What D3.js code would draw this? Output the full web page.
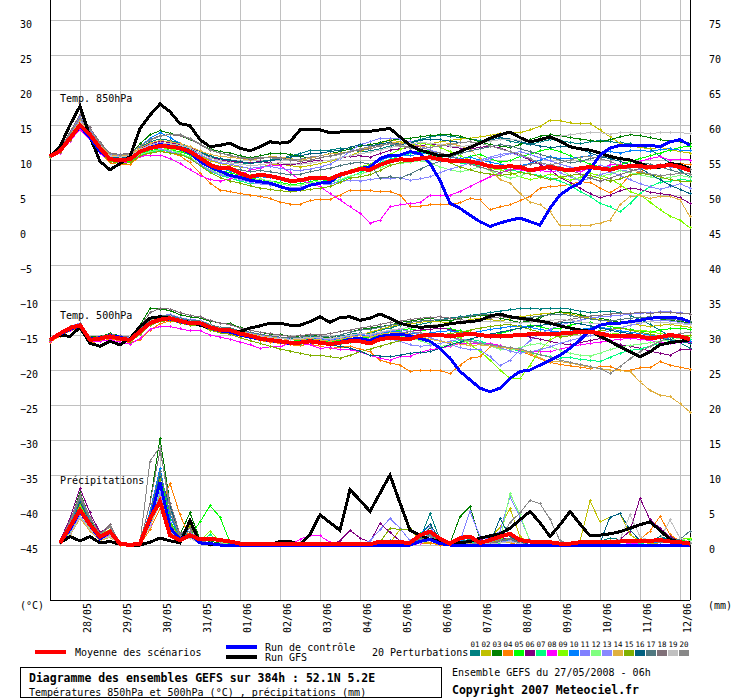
<!DOCTYPE html>
<html>
<head>
<meta charset="utf-8">
<script src="https://cdn.jsdelivr.net/npm/d3@7"></script>
<style>
  body { margin: 0; background: #fff; }
  svg { display: block; font-family: "DejaVu Sans Mono", monospace; }
</style>
</head>
<body>
<svg id="chart" width="740" height="700"></svg>
<script>
// lead times (hours after 27/05/2008 06h)
var leadHours = [0,6,12,18,24,30,36,42,48,54,60,66,72,78,84,90,96,102,108,114,120,126,132,138,144,150,156,162,168,174,180,186,192,198,204,210,216,222,228,234,240,246,252,258,264,270,276,282,288,294,300,306,312,318,324,330,336,342,348,354,360,366,372,378,384];
var precipHours = [6,12,18,24,30,36,42,48,54,60,66,72,78,84,90,96,102,108,114,120,126,132,138,144,150,156,162,168,174,180,186,192,198,204,210,216,222,228,234,240,246,252,258,264,270,276,282,288,294,300,306,312,318,324,330,336,342,348,354,360,366,372,378,384];
var dateHours = [18,42,66,90,114,138,162,186,210,234,258,282,306,330,354,378];
var dateLabels = ["28/05","29/05","30/05","31/05","01/06","02/06","03/06","04/06","05/06","06/06","07/06","08/06","09/06","10/06","11/06","12/06"];
var leftTicks = [30,25,20,15,10,5,0,-5,-10,-15,-20,-25,-30,-35,-40,-45];
var rightTicks = [75,70,65,60,55,50,45,40,35,30,25,20,15,10,5,0];

var memberLabels = ["01","02","03","04","05","06","07","08","09","10","11","12","13","14","15","16","17","18","19","20"];
var memberColors = ["#008080","#c0c000","#008000","#ff8000","#00ff00","#800080","#00ff80","#ff00ff","#80ff00","#0080ff","#8080ff","#80ff80","#8888ff","#e0b040","#80b000","#006080","#507880","#807078","#c0c0c0","#888888"];

// 850 hPa temperature (°C)
var t850Mean = [10.5,11.3,13.1,15.0,13.6,11.7,10.1,10.0,10.1,11.2,11.7,12.0,11.9,11.7,11.2,10.3,9.3,8.8,8.8,8.1,7.6,7.9,7.7,7.4,7.0,7.1,7.4,7.5,7.3,7.9,8.3,8.7,8.6,9.3,9.8,10.1,10.0,10.2,10.4,10.1,9.9,9.8,9.8,9.5,9.1,9.0,9.1,9.0,8.5,8.8,9.0,8.7,8.5,8.8,9.0,8.8,8.6,9.0,9.1,9.1,9.0,9.1,9.3,9.0,8.5];
var t850Gfs = [10.5,11.9,15.0,17.7,13.3,9.8,8.6,9.5,10.5,14.5,16.4,18.0,16.9,15.2,14.9,12.9,11.9,12.1,12.4,11.7,11.3,11.9,12.6,12.4,12.6,14.3,14.4,14.3,13.9,14.0,14.1,14.1,14.1,14.3,14.5,13.3,12.1,11.4,11.0,10.6,10.7,11.2,11.8,12.4,13.1,13.6,14.0,13.2,12.6,12.9,13.3,12.7,11.9,11.6,11.4,11.0,10.5,10.2,10.0,9.5,9.0,9.0,9.5,9.3,8.8];
var t850Control = [10.5,11.4,13.0,14.8,13.2,11.2,10.2,10.0,10.2,11.2,11.8,12.2,12.0,11.6,11.0,9.8,9.0,8.4,7.8,7.5,7.1,6.9,6.7,6.2,5.8,5.8,6.4,6.7,6.8,7.9,8.3,8.8,9.0,10.2,10.7,10.7,11.2,10.9,9.5,7.1,3.8,3.1,2.1,1.2,0.5,1.0,1.4,1.7,1.2,0.7,3.1,5.0,6.0,6.7,8.6,10.7,11.7,12.1,12.1,12.1,12.1,11.9,12.6,12.9,12.1];
var t850Members = [
  [10.5,11.4,13.4,15.2,13.8,12.0,10.5,10.3,10.6,11.8,12.6,13.0,12.8,12.4,11.9,11.2,10.6,10.2,9.8,9.6,9.5,9.8,10.0,10.2,10.6,10.9,11.4,11.3,11.4,11.7,11.5,11.2,11.3,11.6,12.0,12.4,12.6,12.9,13.3,13.5,13.4,13.2,13.0,12.8,12.9,13.1,12.7,12.4,12.2,12.6,12.9,12.8,12.5,12.3,12.6,12.8,12.6,12.5,12.3,12.0,11.6,10.5,9.6,8.5,7.6],
  [10.6,11.3,13.0,14.8,13.5,11.8,10.4,10.2,10.3,11.0,11.6,12.1,12.0,11.8,11.3,10.6,9.9,9.5,9.2,9.0,8.8,9.0,9.3,9.4,9.2,9.0,9.2,9.5,9.8,10.2,10.6,11.2,11.8,12.4,12.9,12.6,12.2,12.0,12.3,12.6,12.8,13.0,13.1,13.3,13.5,13.8,13.9,13.9,14.3,14.8,15.7,15.6,15.3,15.2,15.2,14.3,13.3,12.4,12.0,11.8,11.6,11.8,11.5,11.2,11.0],
  [10.5,11.5,13.6,15.5,14.0,12.2,10.8,10.6,10.9,12.3,13.6,14.2,13.8,13.5,12.9,12.3,11.6,11.2,11.0,10.6,10.3,10.6,10.9,11.0,10.8,10.5,10.3,10.6,10.9,11.2,11.6,12.0,12.2,12.5,12.8,13.0,13.1,13.3,13.5,13.6,13.6,13.4,13.0,12.6,12.2,12.0,11.8,12.2,12.9,13.4,13.6,13.5,13.2,13.0,12.8,12.6,12.9,13.3,13.6,13.5,13.2,12.9,12.7,12.6,12.4],
  [10.4,11.0,12.8,14.5,13.0,11.0,9.6,9.3,9.4,10.5,11.0,11.3,11.0,10.6,9.6,8.1,6.7,5.7,5.5,5.2,5.0,4.8,4.5,4.0,3.7,3.7,4.2,4.4,4.4,5.0,5.7,5.7,5.6,5.5,5.5,5.0,3.4,3.4,3.6,3.7,3.6,3.9,4.5,4.3,2.9,3.3,3.6,4.2,4.8,6.0,6.2,6.3,6.5,6.9,6.8,6.0,5.3,6.2,7.9,8.3,8.8,9.0,9.2,9.5,9.3],
  [10.5,11.2,13.0,14.9,13.4,11.5,10.0,9.7,9.8,10.9,11.3,11.6,11.4,11.2,10.7,9.8,9.0,8.5,8.2,7.8,7.4,7.2,7.0,6.8,6.5,6.6,6.9,7.2,7.0,7.6,8.2,8.9,9.2,10.0,10.5,10.8,11.0,11.2,11.4,11.0,10.6,10.2,10.5,10.8,10.2,9.7,9.9,10.5,10.8,11.3,11.6,11.2,10.6,10.0,9.4,9.0,8.9,9.3,9.8,10.2,10.6,11.0,11.4,11.8,12.0],
  [10.6,11.4,13.3,15.3,13.9,12.1,10.6,10.4,10.6,11.6,12.3,12.7,12.5,12.2,11.8,11.0,10.4,10.0,9.8,9.7,9.6,9.8,9.6,9.4,9.3,9.5,9.8,10.0,10.0,10.3,10.5,10.6,10.4,10.9,11.4,11.6,11.8,12.0,12.3,12.2,11.9,11.7,11.6,11.8,12.0,11.7,11.2,10.6,10.0,9.4,8.6,7.5,6.8,6.0,5.2,4.6,5.0,5.6,6.0,5.8,5.4,5.2,5.0,4.6,3.8],
  [10.4,11.1,12.9,14.7,13.2,11.3,9.9,9.6,9.7,10.6,11.1,11.4,11.2,10.9,10.3,9.3,8.4,7.8,7.4,7.0,6.6,6.8,6.7,6.3,6.0,6.1,6.4,6.6,6.5,7.0,7.6,8.2,8.8,9.6,10.1,10.6,10.9,11.1,10.8,10.4,10.0,9.6,9.4,9.2,9.0,8.8,8.6,8.3,8.0,7.8,7.4,7.0,6.4,5.5,4.8,3.8,3.3,2.6,3.8,5.2,6.2,6.8,7.0,7.2,7.1],
  [10.3,11.0,12.7,14.4,12.9,11.0,9.8,9.6,9.7,10.5,10.7,10.7,10.2,9.5,8.6,7.8,7.2,7.0,7.3,7.8,8.6,8.8,9.3,9.2,8.2,7.1,6.7,6.2,5.2,4.3,3.3,2.4,1.0,1.4,3.3,3.6,3.8,3.9,5.0,5.0,5.0,5.5,6.2,6.9,7.6,8.1,8.7,8.6,8.3,8.5,8.3,8.5,8.6,8.3,8.8,8.8,9.3,9.3,9.1,9.8,10.2,10.5,10.0,10.1,10.0],
  [10.5,11.3,13.1,15.0,13.5,11.6,10.1,9.9,10.0,11.0,11.5,11.8,11.6,11.4,10.8,10.0,9.2,8.7,8.5,8.1,7.8,7.9,7.6,7.3,6.9,7.0,7.4,7.6,7.5,8.1,8.5,9.0,9.4,10.1,10.8,11.5,12.0,12.4,12.2,11.8,11.2,10.6,10.0,9.5,8.8,8.6,8.2,7.6,7.2,7.5,8.0,7.6,7.1,7.5,8.1,7.8,7.3,6.5,5.5,5.0,4.0,2.9,2.0,1.4,0.3],
  [10.4,11.3,13.2,15.1,13.7,11.9,10.3,10.1,10.4,11.9,13.1,13.9,13.2,12.4,11.6,10.5,9.5,8.8,8.4,8.0,7.4,7.6,7.5,7.2,6.9,6.9,7.2,7.3,7.1,7.7,8.3,8.9,9.1,10.0,10.4,10.8,10.6,10.9,11.1,10.8,10.5,10.2,10.4,10.0,9.7,9.4,9.1,9.2,9.5,10.0,10.5,10.2,10.2,10.4,10.6,11.0,11.2,11.0,11.3,11.4,11.2,11.5,11.6,11.4,11.4],
  [10.6,11.6,13.8,16.2,14.4,12.3,10.8,10.6,10.7,11.5,12.2,12.5,12.3,12.0,11.5,10.8,10.1,9.6,9.4,9.1,8.8,9.0,9.1,8.8,8.6,8.5,8.7,9.0,9.4,10.2,11.2,12.2,12.6,13.1,13.1,13.0,12.6,12.0,11.4,11.0,10.6,10.1,9.7,9.8,10.2,10.5,10.9,11.2,10.8,10.3,9.9,9.4,9.0,8.7,8.8,9.2,9.0,8.5,8.4,8.7,9.0,9.2,9.0,8.8,8.6],
  [10.5,11.2,13.0,14.7,13.3,11.4,9.9,9.8,9.9,10.8,11.2,11.5,11.4,11.0,10.4,9.4,8.6,8.1,7.7,7.4,7.1,7.3,7.0,6.6,6.3,6.4,6.7,7.0,6.8,7.2,7.7,8.0,8.4,8.9,9.3,9.5,9.7,9.9,9.6,9.0,8.6,8.3,8.6,9.0,8.5,7.9,7.4,7.7,8.3,8.8,9.2,8.6,7.8,7.2,7.3,7.6,8.0,8.5,8.2,7.9,7.6,7.3,7.5,7.8,7.5],
  [10.5,11.4,13.5,15.8,14.1,12.0,10.5,10.2,10.4,11.2,11.6,11.6,11.2,10.8,10.2,9.4,8.5,7.9,7.6,7.2,6.8,6.6,6.4,6.2,6.0,6.1,6.4,6.6,6.5,6.9,7.1,7.0,7.2,7.4,7.3,7.5,7.1,7.3,7.6,8.2,8.7,9.1,9.6,10.0,10.4,10.8,11.0,10.6,10.2,9.6,9.0,8.2,7.6,7.0,7.4,7.9,8.3,7.8,7.2,6.6,6.2,5.8,6.2,6.6,6.0],
  [10.6,11.5,13.4,15.6,14.0,12.2,10.7,10.5,10.8,11.7,12.4,12.8,12.6,12.3,11.9,11.3,10.8,10.5,10.4,10.2,10.0,10.2,10.5,10.4,10.2,10.0,10.2,10.6,10.9,11.0,11.2,11.5,11.8,12.2,12.6,12.4,12.2,12.0,11.8,12.1,12.4,12.0,11.5,10.2,8.6,7.2,6.7,5.2,4.0,3.6,2.6,0.6,0.6,0.6,0.7,1.0,1.4,3.6,4.8,4.9,4.5,4.8,4.8,4.3,1.9],
  [10.4,11.1,12.8,14.6,13.1,11.2,9.8,9.5,9.6,10.6,11.0,11.2,11.0,10.8,10.2,9.2,8.2,7.5,7.0,6.7,6.3,6.0,5.8,5.6,5.5,5.6,5.8,6.0,6.2,6.8,7.4,7.6,7.9,8.5,9.2,9.6,9.9,10.3,10.6,10.2,9.6,9.0,8.6,8.2,8.0,7.8,8.0,8.2,8.0,7.6,7.2,7.5,7.8,8.0,7.8,7.4,7.0,7.3,7.8,8.1,7.9,7.6,7.2,7.0,6.9],
  [10.5,11.3,13.2,15.0,13.6,11.8,10.4,10.3,10.5,11.4,12.0,12.3,12.2,12.0,11.6,11.0,10.5,10.2,10.0,9.8,9.5,9.7,9.9,10.1,10.4,10.6,10.9,11.0,11.2,11.4,11.8,12.2,12.0,12.3,12.5,12.2,12.4,12.8,13.0,12.9,12.7,12.5,12.6,12.4,12.8,13.2,13.0,12.6,12.3,12.0,11.8,11.9,12.0,11.6,11.0,10.5,10.2,9.8,9.3,8.8,8.0,7.2,6.4,5.8,5.2],
  [10.5,11.3,13.3,15.2,13.7,11.8,10.3,10.1,10.3,11.2,11.8,12.0,11.8,11.5,11.0,10.2,9.5,9.1,8.9,8.6,8.3,8.5,8.3,8.1,7.9,8.0,8.3,8.6,8.8,9.2,9.5,9.7,9.4,7.4,7.6,7.4,8.0,8.7,9.3,9.8,10.4,10.9,11.3,11.6,11.9,12.2,12.0,11.6,11.2,10.8,10.4,10.0,9.6,9.8,10.2,10.4,10.6,10.3,9.9,9.6,9.4,9.0,8.6,8.2,8.0],
  [10.6,11.6,14.0,16.5,14.6,12.5,11.0,10.8,11.0,12.0,12.9,13.5,13.6,13.5,13.0,12.2,11.4,11.0,10.7,10.3,10.1,10.2,10.4,10.3,10.0,9.8,10.0,10.3,10.6,10.9,11.2,11.4,11.6,12.0,12.4,12.2,11.8,11.5,11.2,11.0,10.6,10.0,9.4,9.0,8.6,8.2,8.5,9.0,9.4,9.6,9.3,9.0,8.6,8.0,7.4,7.0,7.4,7.9,8.4,8.8,9.1,9.4,9.3,9.0,8.6],
  [10.5,11.4,13.4,15.4,13.9,12.0,10.6,10.4,10.6,11.5,12.1,12.4,12.3,12.1,11.7,11.0,10.3,9.9,9.6,9.4,9.2,9.3,9.5,9.6,9.5,9.4,9.5,9.8,10.0,10.3,10.6,10.9,11.1,11.4,11.8,12.0,12.3,12.5,12.4,12.2,12.0,11.9,12.1,12.4,12.7,12.9,13.0,12.8,12.6,12.8,13.1,13.4,13.6,13.8,13.9,13.9,13.7,13.9,14.0,13.9,13.8,13.9,14.0,13.9,13.8],
  [10.5,11.5,13.7,16.0,14.2,12.3,10.9,10.7,10.9,12.0,12.8,13.4,13.7,13.6,13.1,12.3,11.5,11.0,10.6,10.4,10.2,10.4,10.3,10.2,10.0,10.1,10.4,10.6,10.5,10.8,11.2,11.6,11.9,12.1,12.3,12.0,11.7,11.6,11.8,12.0,12.2,12.5,12.6,12.4,12.0,11.6,11.2,10.8,10.2,9.6,9.3,9.6,10.0,10.4,10.5,10.2,9.8,9.2,8.7,8.3,8.0,7.8,7.9,8.1,8.0]
];

// 500 hPa temperature (°C)
var t500Mean = [-15.7,-14.8,-14.0,-13.6,-15.7,-15.5,-15.2,-15.5,-15.7,-14.5,-13.3,-12.8,-12.6,-13.0,-13.3,-13.3,-13.9,-14.3,-14.3,-14.8,-15.1,-15.5,-15.7,-15.9,-16.1,-16.1,-15.9,-16.1,-16.3,-16.1,-15.9,-15.9,-16.2,-15.6,-15.4,-15.5,-15.6,-15.1,-15.0,-15.0,-15.2,-15.0,-14.8,-15.0,-15.2,-15.2,-15.1,-15.0,-14.9,-14.9,-14.9,-14.8,-14.7,-14.5,-14.5,-14.8,-15.1,-15.2,-15.1,-15.2,-15.5,-15.3,-15.0,-15.2,-15.6];
var t500Gfs = [-15.7,-15.0,-15.2,-13.9,-16.2,-16.6,-15.9,-16.4,-15.5,-13.8,-12.6,-12.4,-12.6,-12.9,-13.2,-13.6,-14.0,-14.3,-14.5,-14.5,-14.0,-13.7,-13.3,-13.3,-13.6,-13.6,-13.1,-12.4,-13.2,-12.5,-12.4,-12.9,-12.6,-12.0,-12.6,-13.3,-13.7,-13.9,-13.8,-13.7,-13.4,-13.2,-13.1,-12.9,-12.3,-12.0,-12.4,-12.6,-12.8,-13.0,-13.3,-13.7,-14.0,-14.3,-14.4,-15.2,-15.9,-16.7,-17.4,-18.1,-17.4,-16.4,-16.1,-15.9,-15.7];
var t500Control = [-15.7,-14.9,-14.2,-13.7,-15.6,-15.4,-15.1,-15.3,-15.8,-14.6,-13.2,-12.8,-12.7,-13.1,-13.4,-13.4,-14.0,-14.4,-14.6,-15.0,-15.3,-15.6,-15.8,-16.0,-16.2,-16.0,-15.8,-16.0,-16.4,-16.0,-15.6,-15.5,-15.8,-15.2,-15.0,-14.9,-15.1,-15.5,-15.9,-16.9,-18.3,-20.2,-21.4,-22.6,-23.1,-22.6,-21.2,-20.2,-20.0,-19.3,-18.6,-17.9,-16.9,-15.7,-14.3,-13.6,-13.3,-13.3,-13.1,-12.9,-12.6,-12.5,-12.5,-12.6,-13.1];
var t500Members = [
  [-15.6,-14.7,-13.9,-13.5,-15.5,-15.4,-15.0,-15.3,-15.5,-14.3,-13.0,-12.5,-12.3,-12.7,-13.0,-13.1,-13.6,-14.0,-14.1,-14.5,-14.8,-15.0,-15.2,-15.4,-15.5,-15.4,-15.2,-15.3,-15.5,-15.2,-14.9,-14.7,-14.8,-14.3,-14.0,-13.6,-13.3,-13.5,-13.2,-12.8,-12.6,-12.4,-12.2,-12.0,-11.8,-11.6,-11.4,-11.2,-11.2,-11.3,-11.2,-11.2,-11.3,-11.6,-11.8,-11.7,-11.6,-11.8,-12.2,-12.8,-13.5,-14.3,-15.2,-16.1,-16.9],
  [-15.7,-14.9,-14.1,-13.7,-15.8,-15.6,-15.3,-15.6,-15.8,-14.6,-13.4,-12.9,-12.7,-13.1,-13.4,-13.4,-14.0,-14.4,-14.4,-14.9,-15.2,-15.4,-15.4,-15.5,-15.7,-15.6,-15.3,-15.4,-15.6,-15.4,-15.2,-15.0,-14.6,-14.2,-13.8,-13.5,-13.4,-13.2,-13.0,-13.1,-13.3,-13.1,-12.8,-12.6,-12.8,-13.0,-12.7,-12.4,-12.2,-12.0,-11.9,-11.8,-12.0,-12.3,-12.6,-12.8,-13.1,-13.3,-13.4,-13.6,-13.8,-13.6,-13.5,-13.7,-13.9],
  [-15.5,-14.6,-13.8,-13.4,-15.3,-15.2,-14.8,-15.1,-15.3,-13.6,-11.2,-11.3,-11.5,-12.1,-12.4,-12.6,-13.0,-13.3,-13.4,-13.9,-14.3,-14.6,-14.9,-14.9,-15.2,-15.3,-15.0,-15.2,-15.4,-15.0,-14.6,-14.2,-14.0,-13.8,-13.6,-13.2,-13.0,-12.8,-12.6,-12.9,-13.0,-12.6,-12.4,-12.2,-12.3,-12.6,-12.9,-13.2,-13.0,-12.5,-12.0,-11.7,-11.8,-12.1,-12.4,-12.6,-12.9,-13.2,-13.0,-12.8,-12.6,-12.7,-12.9,-13.1,-13.2],
  [-16.0,-15.2,-14.4,-14.0,-16.1,-15.9,-15.6,-15.8,-16.1,-15.7,-14.3,-13.4,-13.0,-13.2,-13.6,-13.7,-14.3,-14.7,-14.8,-15.2,-15.4,-15.8,-16.0,-16.2,-16.4,-16.5,-16.3,-16.6,-16.9,-16.8,-16.6,-17.0,-17.4,-18.6,-19.0,-19.3,-20.2,-20.0,-20.0,-20.1,-20.5,-19.3,-18.3,-18.1,-16.7,-16.6,-16.9,-17.3,-17.8,-18.4,-18.9,-19.2,-19.4,-19.6,-19.8,-19.5,-19.5,-20.0,-20.0,-19.7,-19.7,-18.8,-19.3,-19.6,-19.9],
  [-15.6,-14.7,-13.9,-13.5,-15.6,-15.4,-15.1,-15.4,-15.6,-14.2,-12.6,-12.2,-12.2,-12.6,-13.0,-13.1,-13.7,-14.1,-14.2,-14.6,-14.9,-15.3,-15.5,-15.7,-15.9,-15.8,-15.6,-15.8,-16.0,-15.7,-15.5,-15.3,-15.4,-15.0,-14.6,-14.3,-14.1,-14.4,-14.2,-14.0,-14.1,-14.4,-14.6,-14.8,-15.0,-14.8,-14.4,-14.0,-13.6,-13.8,-14.2,-14.0,-13.6,-13.3,-13.2,-13.5,-13.8,-14.0,-14.2,-14.4,-14.6,-14.3,-14.1,-14.0,-14.2],
  [-15.7,-14.8,-14.0,-13.6,-15.7,-15.5,-15.2,-15.5,-15.7,-14.4,-13.1,-12.6,-12.4,-12.8,-13.1,-13.2,-13.8,-14.2,-14.3,-14.7,-15.0,-15.3,-15.5,-15.7,-15.9,-15.9,-15.7,-15.9,-16.2,-16.0,-15.7,-15.6,-15.8,-15.3,-15.0,-14.8,-14.5,-14.3,-14.2,-14.0,-14.2,-14.6,-14.9,-15.1,-15.3,-15.4,-15.2,-15.0,-15.3,-15.6,-15.9,-16.2,-16.4,-16.1,-15.8,-15.5,-15.8,-16.4,-16.6,-16.9,-17.3,-17.6,-17.9,-17.1,-17.0],
  [-15.8,-14.9,-14.1,-13.7,-15.8,-15.6,-15.3,-15.6,-15.8,-14.5,-13.2,-12.7,-12.5,-12.9,-13.2,-13.3,-13.9,-14.3,-14.4,-14.8,-15.2,-15.5,-15.8,-16.0,-16.2,-16.3,-16.0,-16.2,-16.5,-16.3,-16.0,-15.9,-16.1,-15.7,-15.4,-15.2,-15.0,-15.3,-15.6,-15.9,-16.1,-15.8,-15.6,-15.9,-16.3,-16.6,-17.0,-17.3,-17.6,-17.8,-18.1,-18.3,-18.2,-18.5,-18.6,-18.8,-18.2,-17.6,-17.2,-17.0,-16.6,-16.2,-15.9,-15.8,-15.7],
  [-15.9,-15.0,-14.3,-13.9,-16.0,-15.9,-15.7,-16.0,-16.3,-15.5,-14.2,-13.8,-13.8,-14.1,-14.4,-14.4,-15.0,-15.3,-15.6,-16.0,-16.4,-16.9,-16.7,-16.7,-16.2,-16.2,-16.4,-16.9,-16.8,-17.1,-17.1,-17.4,-17.9,-18.3,-18.6,-18.1,-18.0,-17.5,-17.1,-16.9,-16.6,-16.2,-16.2,-16.3,-16.2,-16.5,-16.9,-17.2,-17.4,-17.3,-17.4,-17.0,-16.7,-16.4,-16.2,-16.0,-15.8,-15.6,-15.5,-15.6,-15.8,-16.0,-16.2,-16.1,-16.0],
  [-15.7,-14.8,-14.0,-13.6,-15.6,-15.5,-15.2,-15.5,-15.7,-14.4,-13.2,-12.7,-12.5,-12.9,-13.2,-13.2,-13.8,-14.2,-14.3,-14.7,-15.0,-15.4,-15.6,-15.8,-16.0,-16.0,-15.8,-16.0,-16.3,-16.1,-15.8,-15.7,-16.0,-15.4,-15.2,-15.1,-15.0,-15.2,-15.0,-14.8,-15.0,-15.4,-16.4,-17.3,-18.6,-20.0,-21.2,-21.2,-19.3,-17.1,-15.7,-15.0,-14.6,-14.3,-14.4,-14.6,-14.9,-14.7,-14.4,-14.3,-14.5,-14.8,-15.0,-15.2,-15.3],
  [-15.6,-14.7,-13.9,-13.5,-15.5,-15.3,-15.0,-15.3,-15.5,-14.2,-12.8,-12.4,-12.3,-12.7,-13.0,-13.0,-13.6,-14.0,-14.1,-14.5,-14.8,-15.1,-15.3,-15.5,-15.7,-15.7,-15.4,-15.6,-15.8,-15.5,-15.2,-15.0,-15.2,-14.8,-14.5,-14.5,-14.8,-14.9,-14.7,-14.5,-14.4,-14.6,-14.7,-14.5,-14.2,-14.0,-13.8,-13.7,-13.9,-14.2,-14.4,-14.6,-14.5,-14.2,-14.0,-13.9,-14.1,-14.4,-14.6,-14.8,-15.0,-15.3,-15.6,-15.8,-15.9],
  [-15.6,-14.6,-13.8,-13.3,-15.4,-15.3,-15.0,-15.2,-15.4,-14.1,-12.7,-12.2,-12.1,-12.5,-12.8,-12.9,-13.5,-13.9,-14.0,-14.4,-14.7,-15.0,-15.2,-15.4,-15.6,-15.6,-15.3,-15.5,-15.7,-15.4,-15.1,-14.9,-15.1,-14.7,-14.4,-14.2,-14.5,-14.9,-15.4,-15.8,-16.3,-16.8,-17.1,-17.1,-18.1,-19.4,-18.6,-17.1,-15.8,-14.8,-14.2,-13.6,-13.2,-12.9,-12.6,-12.4,-12.3,-12.2,-12.0,-11.9,-11.8,-11.7,-11.7,-11.8,-12.0],
  [-15.8,-14.9,-14.1,-13.7,-15.8,-15.6,-15.3,-15.6,-15.9,-14.7,-13.4,-12.9,-12.7,-13.1,-13.4,-13.5,-14.1,-14.5,-14.6,-15.0,-15.3,-15.6,-15.8,-16.0,-16.2,-16.2,-16.0,-16.2,-16.5,-16.2,-15.9,-15.8,-16.0,-15.6,-15.3,-15.1,-15.3,-15.8,-16.3,-16.6,-16.5,-16.1,-15.9,-16.2,-16.6,-17.0,-17.2,-16.8,-16.4,-16.2,-16.6,-17.2,-17.6,-17.9,-18.0,-17.6,-17.1,-16.7,-16.5,-16.3,-16.1,-15.9,-15.7,-15.5,-15.4],
  [-15.7,-14.7,-13.9,-13.4,-15.6,-15.4,-15.1,-15.4,-15.6,-14.3,-13.0,-12.5,-12.4,-12.8,-13.1,-13.2,-13.8,-14.2,-14.3,-14.7,-15.0,-15.3,-15.5,-15.7,-15.9,-16.0,-15.8,-16.0,-16.2,-16.0,-15.7,-15.6,-15.8,-15.4,-15.6,-15.9,-16.4,-16.6,-16.5,-16.2,-15.9,-15.6,-15.8,-16.1,-16.4,-16.8,-17.3,-17.6,-17.4,-17.1,-16.7,-16.2,-15.8,-15.4,-15.1,-14.8,-14.4,-14.0,-13.6,-13.3,-13.0,-12.9,-13.0,-13.2,-13.4],
  [-15.6,-14.7,-13.9,-13.5,-15.5,-15.4,-15.0,-15.3,-15.6,-14.3,-12.9,-12.4,-12.2,-12.6,-12.9,-13.0,-13.6,-14.0,-14.1,-14.5,-14.8,-15.1,-15.3,-15.5,-15.7,-15.7,-15.5,-15.7,-15.9,-15.6,-15.3,-15.1,-15.3,-14.9,-14.7,-14.6,-14.9,-15.2,-15.6,-15.9,-16.1,-16.3,-16.5,-16.4,-16.6,-16.8,-16.9,-17.1,-17.6,-18.3,-18.8,-18.8,-19.0,-19.3,-19.6,-19.8,-20.0,-20.1,-20.2,-21.7,-22.9,-23.6,-23.8,-24.8,-26.0],
  [-15.8,-14.9,-14.1,-13.7,-15.9,-15.7,-15.4,-15.7,-16.0,-14.9,-13.6,-13.1,-12.9,-13.3,-13.6,-13.7,-14.3,-14.7,-14.9,-15.4,-15.8,-16.2,-16.6,-17.0,-17.3,-17.6,-17.9,-17.9,-18.1,-18.3,-17.9,-17.4,-17.0,-16.6,-16.2,-15.8,-15.5,-15.3,-15.1,-15.0,-14.8,-14.6,-14.3,-14.0,-13.8,-13.6,-13.5,-13.8,-14.2,-14.6,-15.0,-15.3,-15.1,-14.8,-14.6,-14.4,-14.2,-14.0,-14.3,-14.6,-14.9,-15.1,-15.3,-15.2,-15.0],
  [-15.7,-14.8,-14.0,-13.6,-15.7,-15.5,-15.2,-15.5,-15.7,-14.5,-13.2,-12.7,-12.5,-12.9,-13.2,-13.3,-13.9,-14.3,-14.4,-14.8,-15.1,-15.4,-15.6,-15.8,-16.0,-16.1,-16.0,-16.2,-16.5,-16.6,-16.9,-17.3,-17.9,-18.0,-18.1,-17.9,-17.6,-17.5,-17.4,-16.9,-16.4,-16.0,-15.6,-15.2,-14.9,-14.6,-14.3,-14.0,-13.8,-13.6,-13.5,-13.3,-13.2,-13.4,-13.7,-14.0,-14.3,-14.6,-14.8,-15.0,-15.3,-15.5,-15.7,-15.9,-16.2],
  [-15.6,-14.7,-13.9,-13.5,-15.6,-15.4,-15.1,-15.3,-15.5,-14.2,-12.8,-12.3,-12.2,-12.6,-12.9,-13.0,-13.5,-13.9,-14.0,-14.4,-14.6,-14.9,-15.1,-15.3,-15.4,-15.3,-15.1,-15.2,-15.3,-15.0,-14.6,-14.3,-14.2,-13.9,-13.6,-13.4,-13.2,-13.0,-12.9,-12.8,-12.7,-12.5,-12.3,-12.1,-12.0,-12.2,-12.4,-12.6,-12.5,-12.3,-12.1,-12.0,-12.2,-12.5,-12.7,-12.9,-13.0,-12.8,-12.6,-12.5,-12.4,-12.6,-12.8,-12.9,-13.0],
  [-15.5,-14.6,-13.8,-13.4,-15.4,-15.2,-14.9,-15.1,-15.3,-13.8,-11.8,-11.2,-11.3,-11.8,-12.2,-12.4,-12.9,-13.3,-13.5,-14.0,-14.3,-14.6,-14.8,-15.0,-15.2,-15.1,-14.9,-15.0,-14.8,-14.5,-14.3,-14.0,-13.8,-13.5,-13.2,-13.0,-12.8,-12.6,-12.5,-12.4,-12.6,-12.8,-13.0,-12.8,-12.6,-12.4,-12.5,-12.8,-13.0,-13.2,-13.4,-13.1,-12.8,-12.5,-12.3,-12.2,-12.0,-11.9,-11.9,-11.8,-11.9,-11.8,-11.8,-11.9,-12.0],
  [-15.6,-14.7,-13.9,-13.5,-15.6,-15.4,-15.1,-15.4,-15.6,-14.4,-13.0,-12.5,-12.4,-12.8,-13.1,-13.1,-13.7,-14.1,-14.2,-14.6,-14.9,-15.2,-15.4,-15.5,-15.6,-15.5,-15.3,-15.4,-15.5,-15.3,-15.0,-14.8,-14.9,-14.6,-14.3,-14.1,-13.9,-13.8,-13.6,-13.5,-13.4,-13.3,-13.2,-13.1,-13.0,-13.1,-13.2,-13.3,-13.2,-13.0,-12.9,-12.8,-12.9,-13.1,-13.3,-13.4,-13.5,-13.4,-13.3,-13.2,-13.1,-13.2,-13.3,-13.4,-13.5],
  [-15.7,-14.8,-14.0,-13.6,-15.7,-15.5,-15.2,-15.5,-15.7,-14.5,-13.3,-12.8,-12.6,-13.0,-13.3,-13.3,-13.9,-14.3,-14.4,-14.8,-15.1,-15.4,-15.6,-15.8,-16.0,-16.0,-15.8,-16.0,-16.2,-15.9,-15.6,-15.4,-15.6,-15.2,-14.9,-14.7,-14.5,-14.7,-14.9,-15.1,-15.3,-15.6,-15.9,-16.2,-16.4,-16.6,-16.8,-17.0,-17.4,-17.8,-18.2,-18.6,-18.9,-19.2,-19.5,-19.8,-20.5,-19.5,-18.4,-17.4,-16.6,-15.9,-15.2,-14.8,-14.6]
];

// 6-hourly precipitation (mm), from +6h
var precipMean = [0.3,2.6,5.0,2.9,1.2,1.9,0.2,0,0.2,3.8,6.2,1.4,0.7,1.4,0.8,0.9,0.7,0.5,0.2,0.1,0.1,0.1,0.1,0.1,0.1,0.1,0.1,0.2,0.1,0.1,0.1,0.1,0.5,0.5,0.4,0.3,1.4,1.9,0.9,0.2,1.0,1.2,0.3,0.7,1.2,1.6,0.7,0.5,0.5,0.4,0.2,0.2,0.4,0.5,0.4,0.4,0.5,0.6,0.5,0.6,0.7,0.5,0.4,0.2];
var precipGfs = [0.3,1.2,0.6,1.2,0.3,0.5,0.1,0,0,0.4,1.0,0.6,0.3,3.5,0.3,0.1,0,0,0,0,0,0,0.5,0.5,0,1.5,4.3,3.2,2.1,7.9,6.4,4.8,7.4,10.0,6.0,2.1,1.4,0.8,0.6,0.3,0.3,0.5,1.0,1.3,1.6,2.4,3.6,4.8,3.2,1.2,2.9,4.8,3.0,1.3,1.4,1.6,1.9,2.4,2.9,3.3,2.1,0.8,0.4,0.3];
var precipControl = [0.3,2.2,4.8,2.8,0.9,1.8,0.1,0,0.1,3.5,9.0,2.5,0.8,1.5,0.3,0.2,0,0,0,0,0,0,0,0,0,0,0,0,0,0,0,0,0,0,0,0,0.5,0.8,0.2,0,0,0,0,0,0,0,0,0,0,0,0,0,0,0,0,0,0,0,0,0,0,0,0,0];
var precipMembers = [
  [0.4,2.5,6.0,3.0,1.2,2.0,0.2,0,0.3,4.5,9.0,5.5,1.0,1.8,0.4,0.8,0.5,0.2,0,0,0,0,0.2,0.3,0,0,0,0,0,0,0,0,0.2,0.3,0.2,0,0.8,4.5,0.8,0.2,0.5,0.8,0.2,0.5,0.8,1.0,0.3,0,0,0,0,0,0,0.2,0.5,1.0,0.8,0.4,0.3,0.6,1.2,0.8,0.5,0.2],
  [0.5,3.0,6.5,3.5,1.5,2.2,0.3,0,0,3.0,7.0,2.0,0.5,2.8,0.6,0.3,0.2,0,0,0,0,0,0,0,0,0,0,0,0,0,0,0,0,0.3,2.2,2.3,0.6,0.2,0.1,0,0,0.4,0.8,1.0,2.5,5.2,1.2,0.3,0,0,0,0,0.5,6.3,3.3,4.0,4.5,1.5,0.5,0.2,0.3,0.5,0.3,0.2],
  [0.4,3.2,7.5,3.8,1.0,2.0,0.2,0,0.2,6.0,15.2,6.0,1.5,4.6,0.8,0.5,0.3,0,0,0,0,0,0,0,0,0,0,0,0,0,0,0,0,0,0.2,0.5,1.2,2.5,0.5,0.2,4.1,5.5,0.8,0.2,0,0,0,0,0,0,0,0,0,0.3,0.5,0.3,0.5,0.3,0.2,0.4,0.6,0.5,0.3,0.2],
  [0.2,1.5,4.0,2.5,0.6,1.2,0,0,0,2.2,5.2,8.8,4.3,1.0,0.2,0,0,0,0,0,0,0,0,0,0,0,0,0,0,0,0,0,0,0,0,0,0.2,0.3,0,0,0,0,0,0.2,0.4,0.3,0,0,0,0,0,0,0,0,0.5,0.6,0.8,0.5,0.8,2.0,4.1,1.5,0.5,0.2],
  [0.3,2.6,6.4,3.2,1.0,1.8,0.1,0,0.2,4.0,10.5,3.5,1.0,1.2,3.3,5.6,4.0,0.4,0,0,0,0,0,0,0,0,0,0,0,0,0,0,0,0.4,0.5,0.3,1.6,2.0,0.4,0.2,0.3,0.5,0.3,0.2,0.5,0.8,0.2,0,0,0,0,0,0,0,0.3,0.2,0.5,0.3,0.5,0.3,0.4,0.6,0.5,0.8],
  [0.6,3.8,8.1,4.6,1.8,2.6,0.4,0,0.2,3.2,8.5,2.5,0.6,1.5,0.3,0.2,0,0,0,0,0,0,0,0,0,0,0,0,0.6,2.1,1.0,0.4,3.1,1.8,0.6,0.2,0.5,1.6,0.7,0.2,0.3,0.3,0.8,1.0,1.0,0.7,0.6,0,0,0,0,0,0.2,0.3,0.3,0.5,0.8,2.0,6.7,3.6,2.4,1.2,0.5,0.3],
  [0.3,2.0,5.5,2.8,0.8,1.5,0.1,0,0.1,3.5,9.0,2.8,0.8,1.2,0.4,1.5,0.3,0,0,0,0,0,0,0,0,0,0,0,0,0,0,0,0,0,0.2,0.2,0.6,1.5,0.4,0.1,0.2,0.4,0.2,0,0.3,0.5,0.2,0,0,0,0,0,0,0,0.2,0.4,0.6,0.3,0.2,0.4,0.5,0.3,0.2,0.3],
  [0.2,1.6,4.8,2.5,0.8,1.4,0.1,0,0,2.8,6.5,2.0,0.6,1.0,0.2,0,0,0,0,0,0,0,0,0,0.8,1.4,1.3,0.4,0,0,0,0,0,0,0,0,0.2,0.8,0.4,0,0,0.2,0.4,0.6,0.8,0.4,0.2,0,0,0,0,0,0,0,0.2,0.3,0.4,0.2,0.3,0.4,0.6,0.8,0.5,0.3],
  [0.4,2.2,5.8,3.0,1.0,1.6,0.1,0,0.1,3.8,8.0,2.6,0.8,1.2,0.5,2.0,0.6,0,0,0,0,0,0,0,0,0,0,0,0,0,0,0,0,0,0.2,0.4,1.0,2.0,0.6,0.2,0.4,0.6,0.3,0.2,0.8,1.6,0.4,0,0,0,0,0,0,0,0.2,0.3,0.6,0.4,0.5,0.4,0.3,0.5,0.8,1.0],
  [0.4,2.8,6.8,3.4,1.2,2.0,0.2,0,0.2,4.8,11.0,4.0,1.2,2.4,0.6,0.3,0.2,0,0,0,0,0,0,0,0,0,0,0,0,0,0,0,0.3,0.6,0.4,0.2,1.5,3.0,0.8,0.3,0.5,1.2,0.4,0.2,0.6,0.6,0.3,0,0,0,0,0,0,0,0.3,0.4,0.5,0.3,0.4,0.3,0.4,0.6,0.5,0.4],
  [0.3,2.0,5.0,2.6,1.0,1.6,0.2,0,0.1,3.6,8.8,3.2,1.0,1.6,0.4,0.2,0,0,0,0,0,0,0,0,0,0,0,0,0,0,0,0.6,2.2,3.8,2.4,0.6,0.5,1.8,0.5,0.3,0.5,4.8,1.2,0.8,2.0,6.9,4.0,0.6,0.2,0,0,0,0,0,0.2,0.4,0.6,0.5,0.4,0.3,0.6,0.4,0.3,0.2],
  [0.2,1.8,4.6,2.4,0.8,1.3,0.1,0,0,3.2,8.0,2.4,0.8,1.2,0.4,0.8,0.4,0,0,0,0,0,0,0,0,0,0,0,0,0,0,0,0,0,0.2,0.3,0.8,1.2,0.4,0.2,0.3,0.5,0.3,0.2,0.6,7.4,4.3,0.5,0,0,0,0,0,0,0.2,0.3,0.4,0.3,0.4,0.5,0.4,0.3,0.4,0.6],
  [0.2,1.6,4.2,2.2,0.7,1.2,0.1,0,0,3.0,7.5,2.2,0.6,1.4,0.3,0.2,0,0,0,0,0,0,0,0,0,0,0,0,0,0,0,0,0,0.4,0.6,0.4,1.0,2.6,0.6,0.3,0.4,0.6,0.3,0.2,0.4,0.6,0.3,0,0,0,0,0,0,0,0.2,0.4,0.5,0.4,0.3,0.4,0.5,0.4,0.3,0.3],
  [0.2,1.4,3.8,2.0,0.6,1.1,0.1,0,0,2.6,6.8,3.0,0.8,1.0,0.2,0,0,0,0,0,0,0,0,0,0,0,0,0,0,0,0,0,0,0,0,0,0.3,0.6,0.2,0,0,0.2,0.3,0.2,0.3,0.4,0.2,0,0,0,0,0,0,0,0.2,0.5,0.6,0.4,0.3,0.5,0.6,0.4,0.3,0.2],
  [0.4,2.4,6.0,3.2,1.0,1.8,0.2,0,0.1,3.8,9.5,3.0,1.2,2.6,0.6,0.3,0.2,0,0,0,0,0,0,0,0,0,0,0,0,0,0,0,0.4,2.4,2.2,2.3,0.8,1.2,0.4,0.2,0.3,0.5,0.4,0.4,0.6,0.8,0.3,0,0,0,0,0,0,0,0.3,0.5,0.6,0.4,0.5,0.4,0.6,0.5,0.4,0.3],
  [0.4,2.5,6.2,3.2,1.1,2.0,0.2,0,0.2,4.2,10.0,5.5,1.5,2.0,0.5,0.3,0.2,0,0,0,0,0,0,0,0,0,0,0,0,0,0,0,0.3,0.4,0.3,0.2,1.2,3.0,0.8,0.2,0.4,0.6,0.3,0.3,3.8,1.2,0.4,0,0,0,0,0,0,0,0.3,4.0,4.5,2.2,0.6,0.4,0.8,1.0,0.5,0.3],
  [0.4,2.6,6.6,3.4,1.2,2.0,0.2,0,0.2,4.4,10.5,4.5,1.2,2.0,0.5,0.3,0.2,0,0,0,0,0,0,0,0,0,0,0,0,0,0,0,0.2,0.3,0.2,0.2,0.8,2.0,0.6,0.2,0.3,0.5,0.3,0.2,0.5,0.8,0.3,0,0,0,0,0,0,0,0.3,0.5,0.6,0.5,0.4,0.5,0.7,0.6,0.8,2.0],
  [0.5,3.5,7.2,4.0,1.6,2.9,0.3,0,0.3,6.0,13.5,6.0,1.6,2.4,0.6,0.3,0.2,0,0,0,0,0,0,0,0,0,0,0,0,0,0,0,0.2,0.3,0.2,0.2,0.6,1.4,0.4,0.2,0.3,0.5,0.3,0.2,0.6,1.0,0.3,0,0,0,0,0,0,0.2,0.3,0.4,0.5,0.4,0.3,0.5,0.4,0.3,0.3,0.2],
  [0.2,1.5,4.0,2.2,0.8,1.2,0.1,0,0,2.6,6.0,2.0,0.6,1.0,0.2,0,0,0,0,0,0,0,0.3,0.5,0.3,0,0,0,0,0,0,0,0,0,0.1,0,0.3,0.6,0.2,0,0.2,0.3,0.2,0.2,0.3,0.5,0.2,0,0,0,0,0,0,0,0.2,0.4,0.8,4.3,1.2,0.6,0.8,3.6,1.0,0.4],
  [0.5,3.2,7.0,3.8,1.5,2.6,0.3,0,0.3,12.0,14.0,5.0,1.2,2.0,0.5,0.2,0.2,0,0,0,0,0,0.2,0.2,0,0,0,0,0,0,0,0,0.2,0.3,0.2,0.2,0.6,1.2,0.4,0.2,0.2,0.3,0.2,0.4,0.8,3.2,4.6,6.4,5.9,3.7,0.6,0.2,0,0.2,0.3,0.4,0.5,0.4,0.3,0.4,0.5,0.4,0.3,0.2]
];

var FONT = "DejaVu Sans Mono";
var svg = d3.select("#chart");
svg.append("rect").attr("width", 740).attr("height", 700).attr("fill", "#ffffff");

var x = d3.scaleLinear().domain([0, 384]).range([50, 690]);
var y = d3.scaleLinear().domain([-45, 30]).range([545, 20]);
var yMm = d3.scaleLinear().domain([0, 75]).range([545, 20]);

// grid
var grid = svg.append("g")
  .attr("stroke", "#c0c0c0")
  .attr("shape-rendering", "crispEdges");
grid.selectAll(".vgrid").data(dateHours).enter().append("line")
  .attr("class", "vgrid")
  .attr("x1", function(d) { return x(d); })
  .attr("x2", function(d) { return x(d); })
  .attr("y1", 0).attr("y2", 600);
grid.selectAll(".hgrid").data(leftTicks).enter().append("line")
  .attr("class", "hgrid")
  .attr("x1", 50).attr("x2", 690)
  .attr("y1", function(d) { return y(d); })
  .attr("y2", function(d) { return y(d); });

// frame
var frame = svg.append("g").attr("stroke", "#000").attr("shape-rendering", "crispEdges");
frame.append("line").attr("x1", 50).attr("x2", 50).attr("y1", 0).attr("y2", 600);
frame.append("line").attr("x1", 690).attr("x2", 690).attr("y1", 0).attr("y2", 600);
frame.append("line").attr("x1", 50).attr("x2", 690).attr("y1", 600).attr("y2", 600);

// axes labels
var yAxisLeft = svg.append("g")
  .attr("transform", "translate(20,0)")
  .call(d3.axisLeft(y).tickValues(leftTicks).tickSize(0).tickPadding(0));
yAxisLeft.attr("font-family", FONT).attr("font-size", 10).attr("text-anchor", "start");
yAxisLeft.select(".domain").remove();
yAxisLeft.selectAll("text").attr("x", 0).attr("dy", "0.76em").attr("fill", "#000");

var yAxisRight = svg.append("g")
  .attr("transform", "translate(709,0)")
  .call(d3.axisRight(yMm).tickValues(rightTicks).tickSize(0).tickPadding(0));
yAxisRight.attr("font-family", FONT).attr("font-size", 10).attr("text-anchor", "start");
yAxisRight.select(".domain").remove();
yAxisRight.selectAll("text").attr("x", 0).attr("dy", "0.76em").attr("fill", "#000");

var xAxis = svg.append("g")
  .attr("transform", "translate(0,600)")
  .call(d3.axisBottom(x).tickValues(dateHours).tickSize(0)
    .tickFormat(function(d, i) { return dateLabels[i]; }));
xAxis.attr("font-family", FONT).attr("font-size", 10);
xAxis.select(".domain").remove();
xAxis.selectAll("text")
  .attr("y", 0).attr("dy", null)
  .attr("text-anchor", "end")
  .attr("fill", "#000")
  .attr("transform", "translate(10,3) rotate(-90)");

function txt(s, px, py, size, bold) {
  return svg.append("text").attr("x", px).attr("y", py)
    .attr("font-family", FONT).attr("font-size", size || 10)
    .attr("font-weight", bold ? "bold" : "normal")
    .attr("fill", "#000").text(s);
}
txt("(°C)", 20, 609);
txt("(mm)", 708, 609);

// series
var plot = svg.append("g").attr("shape-rendering", "crispEdges").attr("fill", "none");

function lineFor(hours, scale) {
  return d3.line()
    .x(function(d, i) { return x(hours[i]); })
    .y(function(d) { return scale(d); });
}
function crosses(values, hours, scale) {
  return values.map(function(d, i) {
    var px = x(hours[i]), py = scale(d);
    return "M" + (px - 1.5) + "," + py + "H" + (px + 1.5) + "M" + px + "," + (py - 1.5) + "V" + (py + 1.5);
  }).join("");
}

var panels = [
  { members: t850Members, mean: t850Mean, control: t850Control, gfs: t850Gfs, hours: leadHours, scale: y },
  { members: t500Members, mean: t500Mean, control: t500Control, gfs: t500Gfs, hours: leadHours, scale: y },
  { members: precipMembers, mean: precipMean, control: precipControl, gfs: precipGfs, hours: precipHours, scale: yMm }
];

panels.forEach(function(p) {
  var line = lineFor(p.hours, p.scale);
  p.members.forEach(function(vals, k) {
    plot.append("path").attr("d", line(vals))
      .attr("stroke", memberColors[k]).attr("stroke-width", 1);
    plot.append("path").attr("d", crosses(vals, p.hours, p.scale))
      .attr("stroke", memberColors[k]).attr("stroke-width", 1);
  });
});
panels.forEach(function(p) {
  var line = lineFor(p.hours, p.scale);
  plot.append("path").attr("d", line(p.gfs)).attr("stroke", "#000000").attr("stroke-width", 3);
  plot.append("path").attr("d", line(p.control)).attr("stroke", "#0000ff").attr("stroke-width", 3);
});
panels.forEach(function(p) {
  var line = lineFor(p.hours, p.scale);
  plot.append("path").attr("d", line(p.mean)).attr("stroke", "#ff0000").attr("stroke-width", 4);
});

// panel titles
txt("Temp. 850hPa", 60, 102);
txt("Temp. 500hPa", 60, 319);
txt("Précipitations", 60, 484);

// legend
var leg = svg.append("g").attr("shape-rendering", "crispEdges");
leg.append("line").attr("x1", 35).attr("x2", 66).attr("y1", 651.5).attr("y2", 651.5).attr("stroke", "#ff0000").attr("stroke-width", 4);
leg.append("line").attr("x1", 226).attr("x2", 257).attr("y1", 646.5).attr("y2", 646.5).attr("stroke", "#0000ff").attr("stroke-width", 4);
leg.append("line").attr("x1", 226).attr("x2", 257).attr("y1", 657).attr("y2", 657).attr("stroke", "#000000").attr("stroke-width", 4);
txt("Moyenne des scénarios", 75, 656);
txt("Run de contrôle", 265, 651);
txt("Run GFS", 265, 661);
txt("20 Perturbations", 372, 656);

leg.selectAll(".sw").data(memberColors).enter().append("rect")
  .attr("class", "sw")
  .attr("x", function(d, i) { return 470 + i * 11; })
  .attr("y", 650).attr("width", 10).attr("height", 6)
  .attr("fill", function(d) { return d; });
svg.selectAll(".swl").data(memberLabels).enter().append("text")
  .attr("class", "swl")
  .attr("x", function(d, i) { return 475 + i * 11; })
  .attr("y", 647)
  .attr("text-anchor", "middle")
  .attr("font-family", FONT).attr("font-size", 7.5)
  .attr("fill", "#000")
  .text(function(d) { return d; });

// title box
svg.append("rect").attr("x", 20.5).attr("y", 667.5).attr("width", 421).attr("height", 30)
  .attr("fill", "none").attr("stroke", "#000").attr("shape-rendering", "crispEdges");
txt("Diagramme des ensembles GEFS sur 384h : 52.1N 5.2E", 29, 682, 11.5, true);
txt("Températures 850hPa et 500hPa (°C) , précipitations (mm)", 29, 696);
txt("Ensemble GEFS du 27/05/2008 - 06h", 452, 676);
txt("Copyright 2007 Meteociel.fr", 452, 694, 11.5, true);
</script>
</body>
</html>
